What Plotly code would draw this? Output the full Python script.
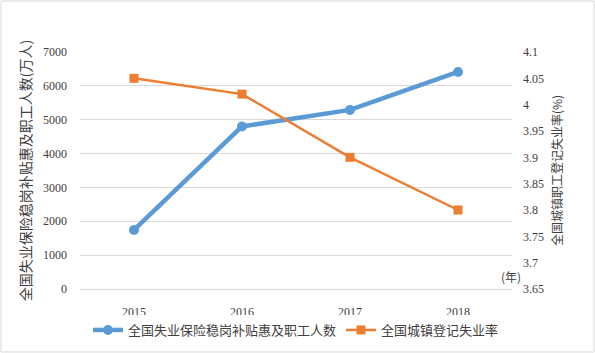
import plotly.graph_objects as go

years = ["2015", "2016", "2017", "2018"]
subsidy_people = [1745, 4800, 5290, 6410]
unemployment_rate = [4.05, 4.02, 3.90, 3.80]
left_ticks = [0, 1000, 2000, 3000, 4000, 5000, 6000, 7000]
right_ticks = [3.65, 3.7, 3.75, 3.8, 3.85, 3.9, 3.95, 4.0, 4.05, 4.1]
right_tick_text = ["3.65", "3.7", "3.75", "3.8", "3.85", "3.9", "3.95", "4", "4.05", "4.1"]

FONT = "Liberation Serif, Times New Roman, Noto Sans CJK SC, serif"
CJK = "Noto Sans CJK SC, Liberation Serif"

fig = go.Figure()
fig.add_trace(go.Scatter(
    x=years, y=subsidy_people, name="全国失业保险稳岗补贴惠及职工人数",
    mode="lines+markers", line=dict(color="#5B9BD5", width=4.5),
    marker=dict(symbol="circle", size=10, color="#5B9BD5"), yaxis="y"))
fig.add_trace(go.Scatter(
    x=years, y=unemployment_rate, name="全国城镇登记失业率",
    mode="lines+markers", line=dict(color="#ED7D31", width=2.5),
    marker=dict(symbol="square", size=9, color="#ED7D31"), yaxis="y2"))

W, H = 595, 353
L, R, T, B = 80, 83, 52, 64
pw, ph = W - L - R, H - T - B

fig.update_layout(
    width=W, height=H,
    margin=dict(l=L, r=R, t=T, b=B, autoexpand=False),
    paper_bgcolor="white", plot_bgcolor="white",
    font=dict(family=FONT, size=12, color="#404040"),
    showlegend=True,
    legend=dict(orientation="h", x=0.5, xanchor="center", y=(289 - 330) / ph,
                yanchor="middle", font=dict(family=CJK, size=13, color="#404040"),
                itemwidth=30, tracegroupgap=0),
    xaxis=dict(type="category", range=[-0.5, 3.5], showgrid=False, zeroline=False,
               showline=True, linecolor="#D9D9D9", linewidth=1, automargin=False,
               ticks="", ticklabelstandoff=12,
               tickfont=dict(family=FONT, size=12, color="#404040")),
    yaxis=dict(range=[0, 7000], tickvals=left_ticks, showgrid=True,
               gridcolor="#D9D9D9", gridwidth=1, zeroline=False, automargin=False,
               ticks="", ticklabelstandoff=12,
               tickfont=dict(family=FONT, size=12, color="#404040"),
               title=dict(text="全国失业保险稳岗补贴惠及职工人数(万人)",
                          font=dict(family=CJK, size=14, color="#404040"), standoff=8)),
    yaxis2=dict(range=[3.65, 4.1], tickvals=right_ticks, ticktext=right_tick_text,
                overlaying="y", side="right", showgrid=False, zeroline=False, automargin=False,
                ticks="", ticklabelstandoff=10,
                tickfont=dict(family=FONT, size=12, color="#404040"),
                title=dict(text="全国城镇职工登记失业率(%)",
                           font=dict(family=CJK, size=12, color="#404040"), standoff=10)),
    annotations=[dict(text="(年)", xref="paper", yref="paper",
                      x=(511 - L) / pw, y=(289 - 276) / ph, showarrow=False,
                      xanchor="center", yanchor="middle",
                      font=dict(family=CJK, size=12, color="#404040"))],
    shapes=[dict(type="rect", xref="paper", yref="paper",
                 x0=-(L - 1) / pw, x1=1 + (R - 1) / pw,
                 y0=-(B - 1) / ph, y1=1 + (T - 1) / ph,
                 line=dict(color="#D9D9D9", width=1), fillcolor="rgba(0,0,0,0)", layer="below")],
)

fig.write_html("out.html", config={"displayModeBar": False},
               post_script="document.body.style.margin='0';document.body.style.overflow='hidden';")
